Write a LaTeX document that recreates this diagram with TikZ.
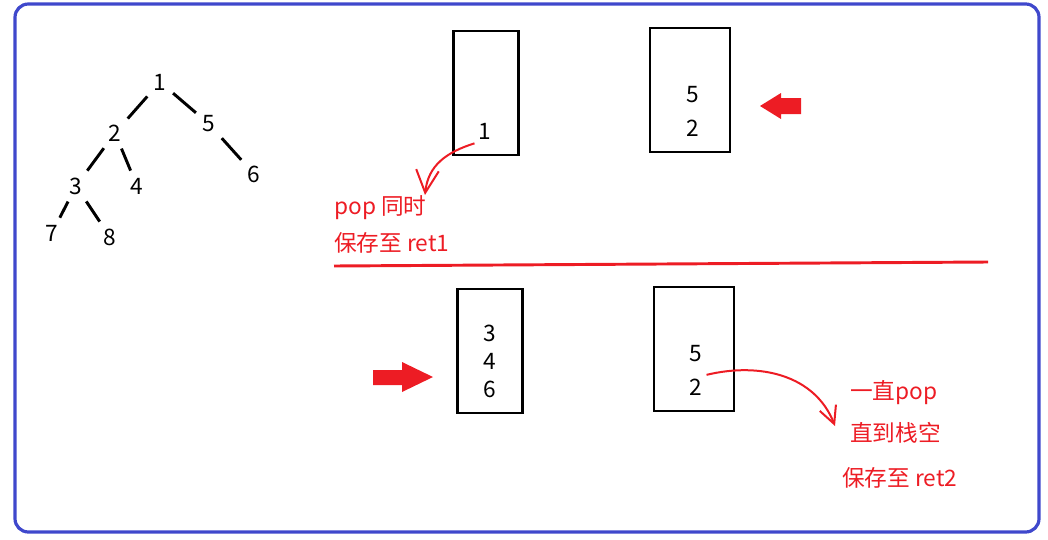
\documentclass[tikz,border=0pt]{standalone}
\usepackage{fontspec}
\setmainfont{Noto Sans CJK SC}
\usetikzlibrary{arrows.meta}
\definecolor{paintred}{RGB}{237,28,36}
\definecolor{frameblue}{RGB}{63,72,204}

\begin{document}
\begin{tikzpicture}[x=0.75pt, y=-0.75pt, node distance={21pt},
    main/.style = {font=\fontsize{17}{20}\selectfont, inner sep=3pt},
    edge/.style = {line width=2.2pt, shorten >=2.5pt, shorten <=2.5pt},
    stack/.style = {draw, line width=2.2pt, minimum width=#1, minimum height=93pt, inner sep=0pt},
    note/.style = {font=\fontsize{17}{20}\selectfont, text=paintred, anchor=west, inner sep=0pt},
    bend/.style = {draw=paintred, line width=1.5pt, -{Straight Barb[length=#1, width=#1]}}]
    \useasboundingbox (0,0) rectangle (1048,539);
    \draw[frameblue, line width=2.4pt, rounded corners=10pt] (15,4) rectangle (1039,532);

    % tree
    \node[main] (1) at (160,82) {1};
    \node[main] (2) at (115,133) {2};
    \node[main] (5) at (209,124) {5};
    \node[main] (3) at (76,186) {3};
    \node[main] (4) at (137,186) {4};
    \node[main] (6) at (254,174) {6};
    \node[main] (7) at (52,233) {7};
    \node[main] (8) at (110,237) {8};

    \draw[edge] (1) -- (2);
    \draw[edge] (1) -- (5);
    \draw[edge] (2) -- (3);
    \draw[edge] (2) -- (4);
    \draw[edge] (5) -- (6);
    \draw[edge] (3) -- (7);
    \draw[edge] (3) -- (8);

    % stacks
    \node[stack=49pt] (st1) at (486,93) {};
    \node[stack=60pt] (st2) at (690,90) {};
    \node[stack=49pt] (st3) at (490,351) {};
    \node[stack=60pt] (st4) at (694,349) {};

    \node[main] (p1) at (485,131) {1};
    \node[main] (q5) at (693,95) {5};
    \node[main] (q2) [below of = q5, node distance=25pt] {2};
    \node[main] (r3) at (490,333) {3};
    \node[main] (r4) [below of = r3] {4};
    \node[main] (r6) [below of = r4] {6};
    \node[main] (w5) at (696,354) {5};
    \node[main] (w2) [below of = w5, node distance=25pt] {2};

    % notes
    \node[note] (pop) at (334,208) {pop 同时};
    \node[note] (ret1) at (334,243) {保存至 ret1};
    \node[note] (keep) at (850,393) {一直pop};
    \node[note] (empty) at (850,433) {直到栈空};
    \node[note] (ret2) at (842,478) {保存至 ret2};

    \coordinate (cutl) at (334,266);
    \coordinate (cutr) at (988,262);
    \draw[paintred, line width=2.2pt] (cutl) -- (cutr);

    \coordinate (tip1) at (425,195);
    \coordinate (tip2) at (835,426);
    \draw[bend=17pt] (p1.south west) .. controls (447,152) and (428,165) .. (tip1);
    \draw[bend=13pt] (w2.north east) .. controls (760,362) and (815,375) .. (tip2);

    % block arrows
    \fill[paintred] (801,98) -- (781,98) -- (781,93) -- (760,106) -- (781,119) -- (781,114) -- (801,114) -- cycle;
    \fill[paintred] (373,370) -- (402,370) -- (402,362) -- (433,377) -- (402,392) -- (402,385) -- (373,385) -- cycle;
\end{tikzpicture}
\end{document}
